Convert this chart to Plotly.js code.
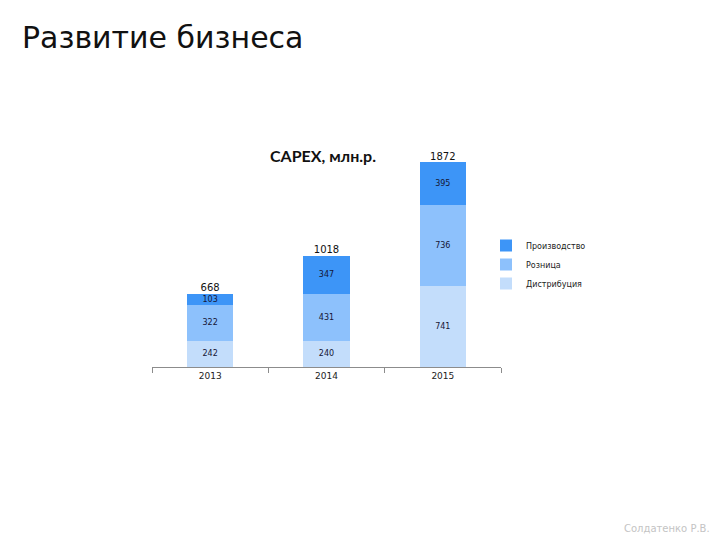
<!DOCTYPE html>
<html>
<head>
<meta charset="utf-8">
<script src="https://cdn.plot.ly/plotly-3.0.1.min.js"></script>
<style>html,body{margin:0;padding:0;background:#fff;}#chart{width:720px;height:540px;}</style>
</head>
<body>
<div id="chart"></div>
<script>
var years = ['2013', '2014', '2015'];
var distribution = [242, 240, 741];
var retail = [322, 431, 736];
var production = [103, 347, 395];
var totals = [668, 1018, 1872];
var seriesNames = ['Дистрибуция', 'Розница', 'Производство'];
var colors = ['#c3ddfb', '#8dc1fc', '#3d95f7'];

// pixel geometry helpers (plot area 152..501 x, 140..367 y)
var L = 152, R = 501, T = 140, B = 367;
function px(x) { return (x - L) / (R - L); }
function py(y) { return (B - y) / (B - T); }

var series = [distribution, retail, production];
var traces = series.map(function (vals, i) {
  return {
    type: 'bar',
    name: seriesNames[i],
    x: years,
    y: vals,
    text: vals.map(String),
    textposition: 'inside',
    insidetextanchor: 'middle',
    constraintext: 'none',
    textfont: {family: 'DejaVu Sans', size: 8, color: '#151535'},
    marker: {color: colors[i], line: {width: 0}},
    hoverinfo: 'skip'
  };
});
traces.push({
  type: 'scatter',
  mode: 'text',
  x: years,
  y: totals,
  text: totals.map(String),
  textposition: 'top center',
  textfont: {family: 'DejaVu Sans', size: 10, color: '#111'},
  showlegend: false,
  hoverinfo: 'skip'
});

var layout = {
  width: 720,
  height: 540,
  paper_bgcolor: '#fff',
  plot_bgcolor: '#fff',
  margin: {l: L, r: 720 - R, t: T, b: 540 - B, pad: 0},
  barmode: 'stack',
  bargap: 0.6,
  showlegend: true,
  legend: {
    x: px(486), y: py(231), xanchor: 'left', yanchor: 'top',
    traceorder: 'reversed',
    font: {family: 'DejaVu Sans', size: 8, color: '#222'},
    itemwidth: 30,
    bgcolor: 'rgba(0,0,0,0)'
  },
  xaxis: {
    type: 'category',
    showgrid: false,
    showline: true,
    linecolor: '#8c8c8c',
    linewidth: 1,
    ticks: 'outside',
    tickson: 'boundaries',
    ticklen: 5,
    tickcolor: '#8c8c8c',
    tickfont: {family: 'DejaVu Sans', size: 9, color: '#222'},
    zeroline: false,
    fixedrange: true
  },
  yaxis: {
    range: [0, 2073],
    visible: false,
    showgrid: false,
    zeroline: false,
    fixedrange: true
  },
  annotations: [
    {
      text: 'Развитие бизнеса',
      xref: 'paper', yref: 'paper',
      x: px(20), y: py(37),
      xanchor: 'left', yanchor: 'middle',
      showarrow: false,
      font: {family: 'DejaVu Sans', size: 30, color: '#111'}
    },
    {
      text: '<b>CAPEX, млн.р.</b>',
      xref: 'paper', yref: 'paper',
      x: px(323), y: py(155),
      xanchor: 'center', yanchor: 'middle',
      showarrow: false,
      font: {family: 'Lato', size: 16, color: '#111'}
    },
    {
      text: 'Солдатенко Р.В.',
      xref: 'paper', yref: 'paper',
      x: px(712), y: py(528),
      xanchor: 'right', yanchor: 'middle',
      showarrow: false,
      font: {family: 'DejaVu Sans', size: 10, color: '#c4c4c4'}
    }
  ]
};

Plotly.newPlot('chart', traces, layout, {displayModeBar: false, staticPlot: true});
</script>
</body>
</html>
